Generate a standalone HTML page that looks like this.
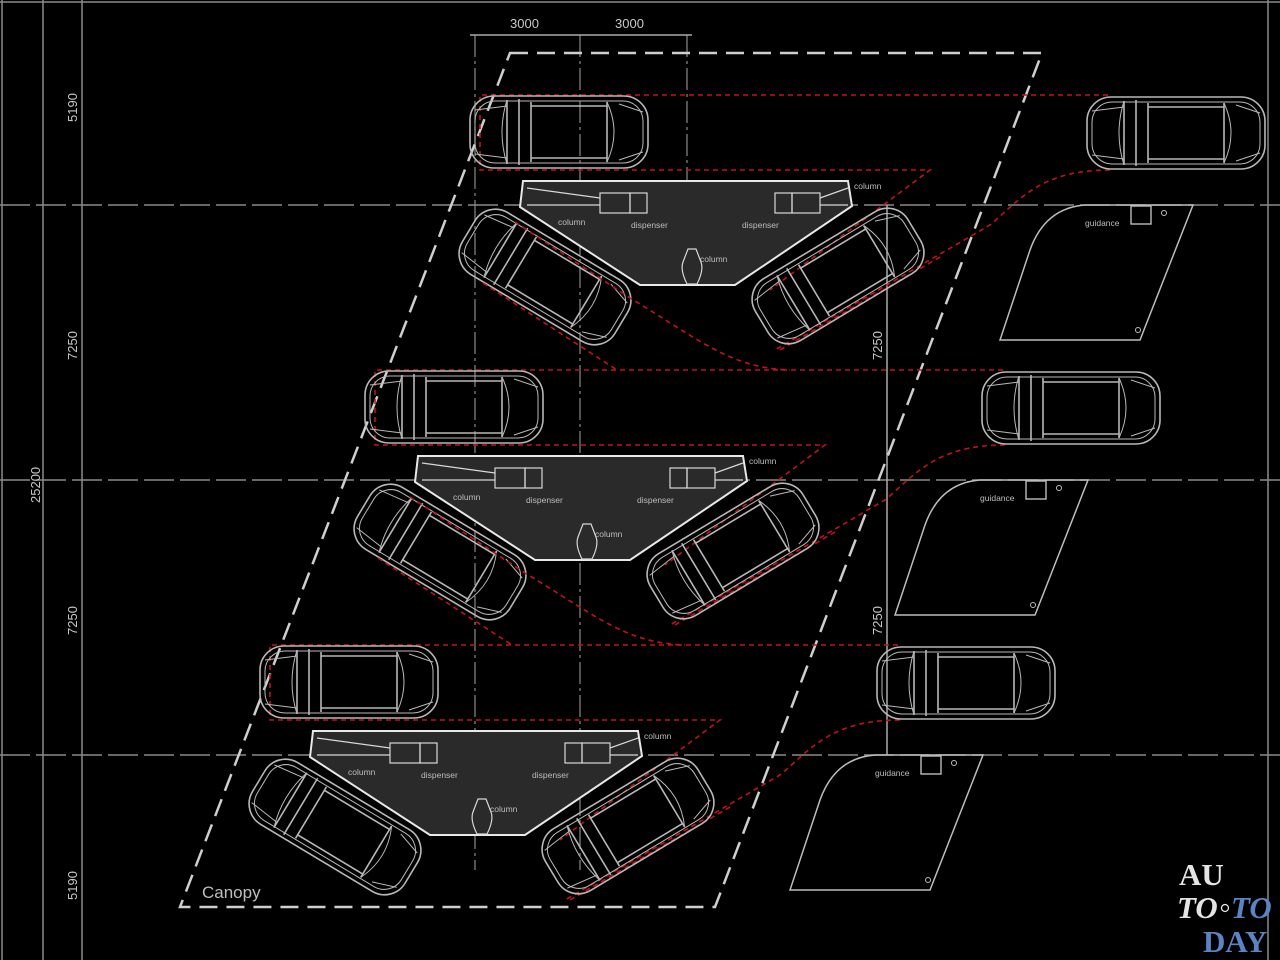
<!DOCTYPE html>
<html><head><meta charset="utf-8"><style>
html,body{margin:0;padding:0;background:#000;}
svg{display:block}
.s{font-family:"Liberation Sans",sans-serif;}
.logo{font-family:"Liberation Serif",serif;font-weight:bold;font-size:31px;}
</style></head><body>
<svg width="1280" height="960" viewBox="0 0 1280 960" xmlns="http://www.w3.org/2000/svg">
<defs>
<g id="car" fill="none" stroke="#b8b8b8" stroke-width="1.6">
  <rect x="-89" y="-36" width="178" height="72" rx="24"/>
  <rect x="-84" y="-31" width="168" height="62" rx="20" stroke-width="1"/>
  <path d="M-52,-32 L-52,32 M-40,-33 L-40,33 M-28,-30 L-28,30 M48,-30 L48,30 M-28,-26 L48,-26 M-28,26 L48,26"/>
  <path d="M-52,-32 Q-62,0 -52,32 M48,-30 Q62,0 48,30" stroke-width="1"/>
  <path d="M-84,-22 L-52,-26 M-84,22 L-52,26 M60,-28 L84,-20 M60,28 L84,20" stroke-width="1"/>
</g>
<g id="mod">
  <g fill="none" stroke="#c0121a" stroke-width="1.6" stroke-dasharray="5,4">
    <path d="M1108,95 L480,95 L480,170 L930,170 L770,290"/>
    <path d="M1110,170 C1040,170 1020,200 990,225 L775,350"/>
    <path d="M940,257 L780,350"/>
  </g>
  <path d="M523,181 L848,181 L852,206 L735,285 L640,285 L520,207 Z" fill="#2a2a2a" stroke="#e8e8e8" stroke-width="2"/>
  <g fill="none" stroke="#d8d8d8" stroke-width="1.2">
    <path d="M527,188 L600,198 M527,205 L600,205 M848,188 L820,198 M848,205 L820,205"/>
    <rect x="600" y="193" width="30" height="20"/><rect x="630" y="193" width="17" height="20"/>
    <rect x="775" y="193" width="17" height="20"/><rect x="792" y="193" width="28" height="20"/>
    <path d="M687,284 Q680,270 683,262 L688,249 L696,249 L701,262 Q704,270 697,284 Z"/>
  </g>
  <g fill="#bdbdbd" font-size="8.5" class="s">
    <text x="558" y="225">column</text>
    <text x="631" y="228">dispenser</text>
    <text x="742" y="228">dispenser</text>
    <text x="700" y="262">column</text>
    <text x="854" y="189">column</text>
  </g>
  <use href="#car" transform="translate(559,132)"/>
  <use href="#car" transform="translate(1176,133)"/>
  <use href="#car" transform="translate(545,277) rotate(31)"/>
  <use href="#car" transform="translate(838,276) rotate(-31)"/>
  <path d="M1085,205 L1193,205 L1140,340 L1000,340 L1030,250 Q1045,208 1085,205 Z" fill="none" stroke="#bdbdbd" stroke-width="1.5"/>
  <rect x="1131" y="206" width="20" height="18" fill="none" stroke="#bdbdbd" stroke-width="1.4"/>
  <circle cx="1164" cy="213" r="2.5" fill="none" stroke="#bdbdbd"/>
  <circle cx="1138" cy="330" r="2.5" fill="none" stroke="#bdbdbd"/>
  <text x="1085" y="226" fill="#bdbdbd" font-size="8.5" class="s">guidance</text>
</g>
<g id="lred" fill="none" stroke="#c0121a" stroke-width="1.6" stroke-dasharray="5,4">
  <path d="M483,283 L617,370"/>
  <path d="M515,222 L630,298 C700,340 730,368 790,370"/>
</g>
</defs>

<g stroke="#8a8a8a" stroke-width="1.5" fill="none">
  <path d="M0,2 L1280,2 M2,0 L2,960 M43,0 L43,960 M82,0 L82,960 M1268,0 L1268,960"/>
  <path d="M0,205 L1280,205 M0,480 L1280,480 M0,755 L1280,755" stroke-dasharray="30,6"/>
  <path d="M887,205 L887,755" stroke="#aaa"/>
  <path d="M475,35 L475,870 M580,35 L580,870 M687,35 L687,250" stroke-dasharray="22,4,3,4" stroke-width="1.2"/>
  <path d="M470,35 L692,35" stroke="#aaa"/>
</g>
<g fill="#c8c8c8" font-size="13" class="s">
  <text x="510" y="28">3000</text>
  <text x="615" y="28">3000</text>
  <text transform="translate(77,122) rotate(-90)">5190</text>
  <text transform="translate(77,360) rotate(-90)">7250</text>
  <text transform="translate(77,635) rotate(-90)">7250</text>
  <text transform="translate(77,900) rotate(-90)">5190</text>
  <text transform="translate(40,503) rotate(-90)">25200</text>
  <text transform="translate(882,360) rotate(-90)">7250</text>
  <text transform="translate(882,635) rotate(-90)">7250</text>
</g>

<path d="M510,53 L1042,53 L715,907 L180,907 Z" fill="none" stroke="#cfcfcf" stroke-width="2.5" stroke-dasharray="18,9"/>
<text x="202" y="898" fill="#bdbdbd" font-size="17" class="s">Canopy</text>

<use href="#mod"/>
<use href="#mod" transform="translate(-105,275)"/>
<use href="#mod" transform="translate(-210,550)"/>
<use href="#lred"/>
<use href="#lred" transform="translate(-105,275)"/>

<g class="logo">
  <text x="1179" y="885" fill="#e4e4e4">AU</text>
  <text x="1177" y="918" fill="#e4e4e4" font-style="italic">TO</text>
  <circle cx="1225" cy="908" r="3.5" fill="none" stroke="#e4e4e4" stroke-width="1.3"/>
  <text x="1231" y="918" fill="#5b84c4" font-style="italic">TO</text>
  <text x="1203" y="952" fill="#5b84c4">DAY</text>
</g>
</svg>
</body></html>
